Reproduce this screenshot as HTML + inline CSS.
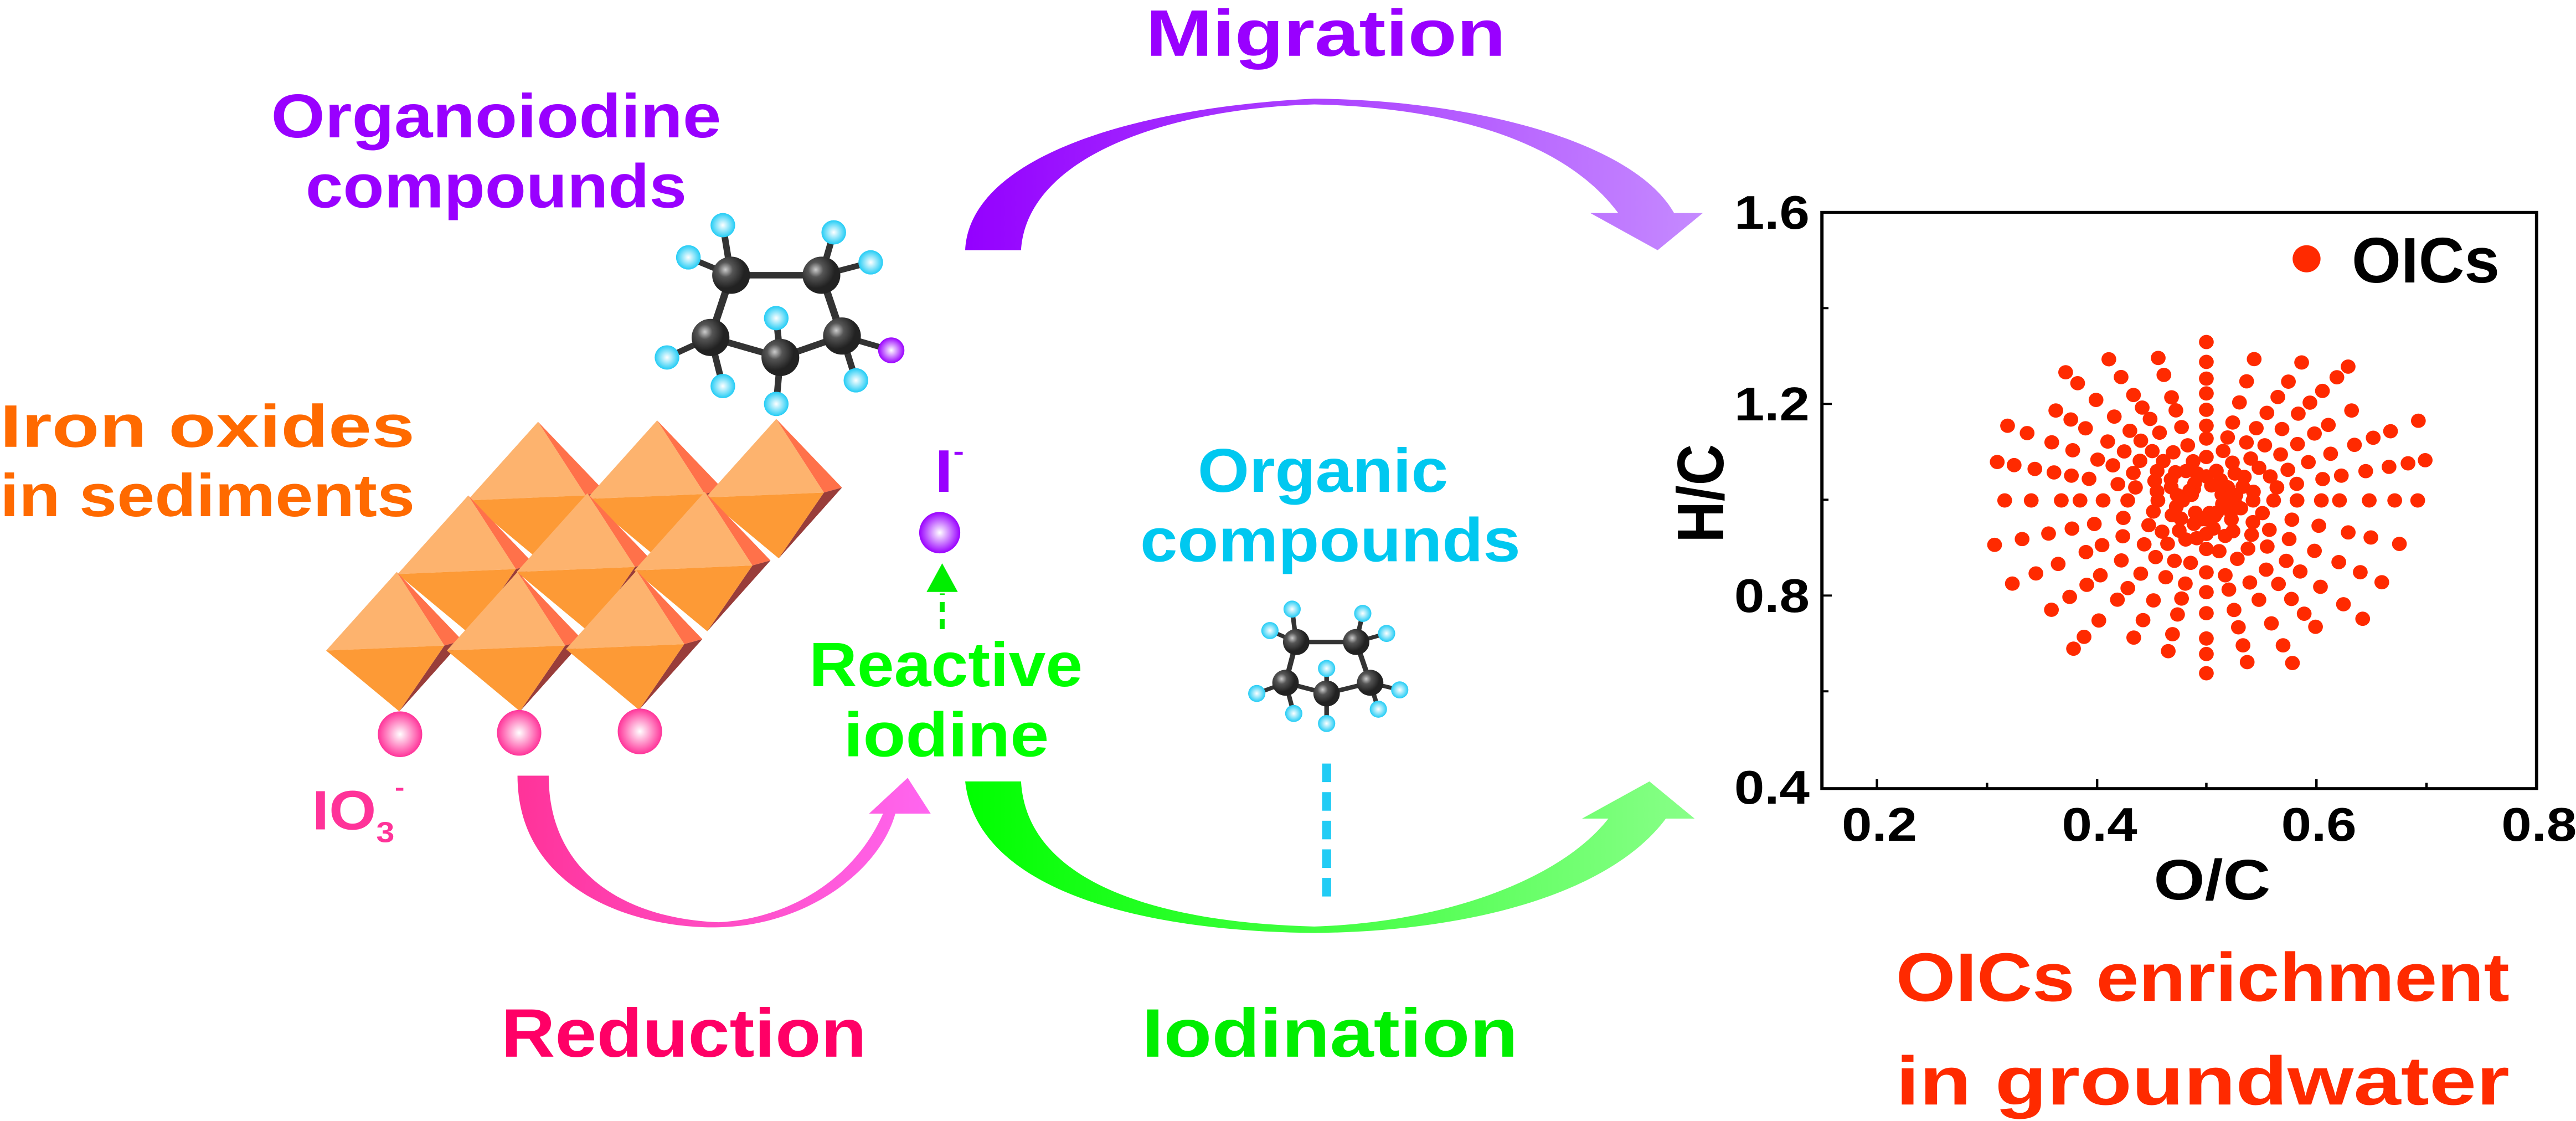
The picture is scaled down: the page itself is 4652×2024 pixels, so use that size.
<!DOCTYPE html>
<html><head><meta charset="utf-8"><style>
html,body{margin:0;padding:0;background:#fff;}
svg{display:block;}
text{font-family:"Liberation Sans",sans-serif;font-weight:bold;}
</style></head><body>
<svg id="s" width="4652" height="2024" viewBox="0 0 3136 1568" preserveAspectRatio="none" xmlns="http://www.w3.org/2000/svg">
<defs>
<linearGradient id="gp" x1="0" y1="0" x2="1" y2="0"><stop offset="0" stop-color="#9400ff"/><stop offset="1" stop-color="#c58aff"/></linearGradient>
<linearGradient id="gr" x1="0" y1="0" x2="1" y2="0"><stop offset="0" stop-color="#ff3399"/><stop offset="1" stop-color="#ff66f0"/></linearGradient>
<linearGradient id="gg" x1="0" y1="0" x2="1" y2="0"><stop offset="0" stop-color="#00ff00"/><stop offset="1" stop-color="#88ff88"/></linearGradient>
<radialGradient id="bp"><stop offset="0" stop-color="#fff"/><stop offset="1" stop-color="#9a00ff"/></radialGradient>
<radialGradient id="bk"><stop offset="0" stop-color="#fff"/><stop offset="1" stop-color="#ff3399"/></radialGradient>
<radialGradient id="bc" cx="0.35" cy="0.35"><stop offset="0" stop-color="#ccc"/><stop offset="0.4" stop-color="#555"/><stop offset="1" stop-color="#222"/></radialGradient>
<radialGradient id="bh"><stop offset="0" stop-color="#fff"/><stop offset="1" stop-color="#22ccf5"/></radialGradient>
<radialGradient id="bi"><stop offset="0" stop-color="#fff"/><stop offset="1" stop-color="#9a00ff"/></radialGradient>
</defs>
<g id="oct"></g>
<path fill="url(#gp)" d="M1175,350 C1180,220 1380,150 1600,138 C1800,140 1990,200 2038,298 L2073,298 L2018,350 L1936,298 L1970,298 C1900,190 1750,150 1600,146 C1420,152 1250,220 1243,350 Z"/>
<path fill="url(#gr)" d="M630,1085 C630,1250 780,1300 875,1297 C980,1295 1070,1220 1090,1138 L1133,1138 L1105,1088 L1058,1138 L1075,1138 C1040,1230 960,1285 875,1290 C760,1285 668,1220 668,1085 Z"/>
<path fill="url(#gg)" d="M1175,1093 C1190,1250 1400,1303 1600,1305 C1790,1303 1960,1250 2028,1145 L2063,1145 L2008,1093 L1926,1145 L1958,1145 C1900,1230 1760,1290 1600,1296 C1400,1290 1250,1230 1243,1093 Z"/>
<line x1="1615" y1="1068" x2="1615" y2="1258" stroke="#22ccf5" stroke-width="11" stroke-dasharray="26,14"/>
<line x1="1147" y1="880" x2="1147" y2="830" stroke="#00ee00" stroke-width="6" stroke-dasharray="14,10"/>
<path d="M1147,788 L1128,828 L1166,828 Z" fill="#00ee00"/>
<g id="mol"></g>
<ellipse cx="1144" cy="745" rx="25" ry="29" fill="url(#bp)"/>
<ellipse cx="487" cy="1027" rx="27" ry="32" fill="url(#bk)"/>
<ellipse cx="632" cy="1025" rx="27" ry="32" fill="url(#bk)"/>
<ellipse cx="779" cy="1023" rx="27" ry="32" fill="url(#bk)"/>
<text x="1395" y="78" font-size="92" fill="#9900ff" textLength="438" lengthAdjust="spacingAndGlyphs">Migration</text>
<text x="330" y="192" font-size="86" fill="#9900ff" textLength="548" lengthAdjust="spacingAndGlyphs">Organoiodine</text>
<text x="372" y="290" font-size="86" fill="#9900ff" textLength="464" lengthAdjust="spacingAndGlyphs">compounds</text>
<text x="0" y="625" font-size="84" fill="#ff6a00" textLength="505" lengthAdjust="spacingAndGlyphs">Iron  oxides</text>
<text x="0" y="722" font-size="84" fill="#ff6a00" textLength="505" lengthAdjust="spacingAndGlyphs">in sediments</text>
<text x="1138" y="688" font-size="84" fill="#9900ff" textLength="22" lengthAdjust="spacingAndGlyphs">I</text>
<rect x="1162" y="632" width="10" height="4" fill="#9900ff"/>
<text x="985" y="960" font-size="88" fill="#00ff00" textLength="333" lengthAdjust="spacingAndGlyphs">Reactive</text>
<text x="1027" y="1058" font-size="88" fill="#00ff00" textLength="250" lengthAdjust="spacingAndGlyphs">iodine</text>
<text x="380" y="1160" font-size="78" fill="#ff3399" textLength="78" lengthAdjust="spacingAndGlyphs">IO</text>
<text x="458" y="1178" font-size="40" fill="#ff3399">3</text>
<rect x="482" y="1102" width="9" height="4" fill="#ff3399"/>
<text x="610" y="1478" font-size="96" fill="#ff0066" textLength="445" lengthAdjust="spacingAndGlyphs">Reduction</text>
<text x="1390" y="1478" font-size="96" fill="#00ee00" textLength="458" lengthAdjust="spacingAndGlyphs">Iodination</text>
<text x="1458" y="688" font-size="86" fill="#00c8f0" textLength="305" lengthAdjust="spacingAndGlyphs">Organic</text>
<text x="1388" y="785" font-size="86" fill="#00c8f0" textLength="463" lengthAdjust="spacingAndGlyphs">compounds</text>
<rect x="2218" y="297" width="870" height="806" fill="none" stroke="#000" stroke-width="4"/>
<g stroke="#000" stroke-width="3">
<line x1="2285" y1="1103" x2="2285" y2="1090"/><line x1="2419" y1="1103" x2="2419" y2="1095"/>
<line x1="2553" y1="1103" x2="2553" y2="1090"/><line x1="2686" y1="1103" x2="2686" y2="1095"/>
<line x1="2820" y1="1103" x2="2820" y2="1090"/><line x1="2954" y1="1103" x2="2954" y2="1095"/>
<line x1="2218" y1="431" x2="2226" y2="431"/><line x1="2218" y1="565" x2="2230" y2="565"/>
<line x1="2218" y1="699" x2="2226" y2="699"/><line x1="2218" y1="833" x2="2230" y2="833"/>
<line x1="2218" y1="967" x2="2226" y2="967"/>
</g>
<g font-size="66" fill="#000" text-anchor="end">
<text x="2203" y="320">1.6</text><text x="2203" y="588">1.2</text><text x="2203" y="856">0.8</text><text x="2203" y="1124">0.4</text>
</g>
<g font-size="66" fill="#000" text-anchor="middle">
<text x="2288" y="1176">0.2</text><text x="2556" y="1176">0.4</text><text x="2823" y="1176">0.6</text><text x="3091" y="1176">0.8</text>
<text x="2693" y="1258" font-size="80">O/C</text>
</g>
<text transform="translate(2098,690) rotate(-90)" font-size="80" text-anchor="middle" fill="#000">H/C</text>
<ellipse cx="2808" cy="362" rx="17" ry="19" fill="#ff2a00"/>
<text x="2863" y="395" font-size="90" fill="#000" textLength="180" lengthAdjust="spacingAndGlyphs">OICs</text>
<g id="pts" fill="#ff2a00"></g>
<text x="2308" y="1400" font-size="96" fill="#ff2a00" textLength="747" lengthAdjust="spacingAndGlyphs">OICs enrichment</text>
<text x="2308" y="1545" font-size="96" fill="#ff2a00" textLength="747" lengthAdjust="spacingAndGlyphs">in  groundwater</text>
</svg>
<script>
var NS="http://www.w3.org/2000/svg";
function el(p,t,a){var e=document.createElementNS(NS,t);for(var k in a)e.setAttribute(k,a[k]);p.appendChild(e);return e;}
var oct=document.getElementById("oct");
var tops=[[655,590],[800,588],[945,586],[570,693],[715,690],[858,688],[483,800],[630,800],[775,798]];
tops.forEach(function(t){var x=t[0],y=t[1];
var T=x+","+y,L=(x-86)+","+(y+110),F=(x+58)+","+(y+103),R=(x+80)+","+(y+96),B=(x+3)+","+(y+195);
el(oct,"polygon",{points:T+" "+F+" "+R,fill:"#ff714a"});
el(oct,"polygon",{points:F+" "+R+" "+B,fill:"#993d3a"});
el(oct,"polygon",{points:T+" "+L+" "+F,fill:"#fdb36e"});
el(oct,"polygon",{points:L+" "+F+" "+B,fill:"#fd9a36"});
});
var mol=document.getElementById("mol");
function molecule(C,bonds,H,Hb,I,sc){
 bonds.forEach(function(b){el(mol,"line",{x1:C[b[0]][0],y1:C[b[0]][1],x2:C[b[1]][0],y2:C[b[1]][1],stroke:"#333","stroke-width":9*sc});});
 H.forEach(function(h,i){var c=C[Hb[i]];el(mol,"line",{x1:c[0],y1:c[1],x2:h[0],y2:h[1],stroke:"#333","stroke-width":8*sc});});
 if(I){var c=C[I[2]];el(mol,"line",{x1:c[0],y1:c[1],x2:I[0],y2:I[1],stroke:"#333","stroke-width":8*sc});}
 H.forEach(function(h){el(mol,"ellipse",{cx:h[0],cy:h[1],rx:15*sc,ry:17*sc,fill:"url(#bh)"});});
 if(I)el(mol,"ellipse",{cx:I[0],cy:I[1],rx:16*sc,ry:18*sc,fill:"url(#bi)"});
 C.forEach(function(c){el(mol,"ellipse",{cx:c[0],cy:c[1],rx:23*sc,ry:26*sc,fill:"url(#bc)"});});
}
molecule([[890,385],[1000,385],[865,472],[950,500],[1025,470]],[[0,1],[0,2],[1,4],[2,3],[3,4]],
 [[880,315],[838,360],[1015,325],[1060,367],[812,500],[880,540],[945,445],[945,565],[1042,532]],[0,0,1,1,2,2,3,3,4],[1085,490,4],1);
molecule([[1578,898],[1651,898],[1565,955],[1615,970],[1668,955]],[[0,1],[0,2],[1,4],[2,3],[3,4]],
 [[1573,852],[1546,882],[1659,858],[1688,886],[1530,970],[1575,998],[1615,935],[1615,1012],[1678,992],[1704,965]],[0,0,1,1,2,2,3,3,4,4],null,0.7);
var pts=document.getElementById("pts");
var seed=7;function rnd(){seed=(seed*9301+49297)%233280;return seed/233280;}
var cx=2686,cy=700;
var angs=[0,14,27,40,52,63,76,90,104,117,129,141,153,166,180,194,207,220,233,246,258,270,282,294,306,318,331,345];
angs.forEach(function(a){var r=a*Math.PI/180;var maxR=0.8+0.2*rnd();
 var d=0.06+0.1*rnd();
 var ry=(Math.sin(r)>0)?250:285;
 while(d<=maxR){var px=cx+Math.cos(r)*d*295,py=cy-Math.sin(r)*d*ry;
  el(pts,"ellipse",{cx:px.toFixed(1),cy:py.toFixed(1),rx:9,ry:10});
  d+=0.07+0.06*rnd();}
});
</script>
</body></html>
